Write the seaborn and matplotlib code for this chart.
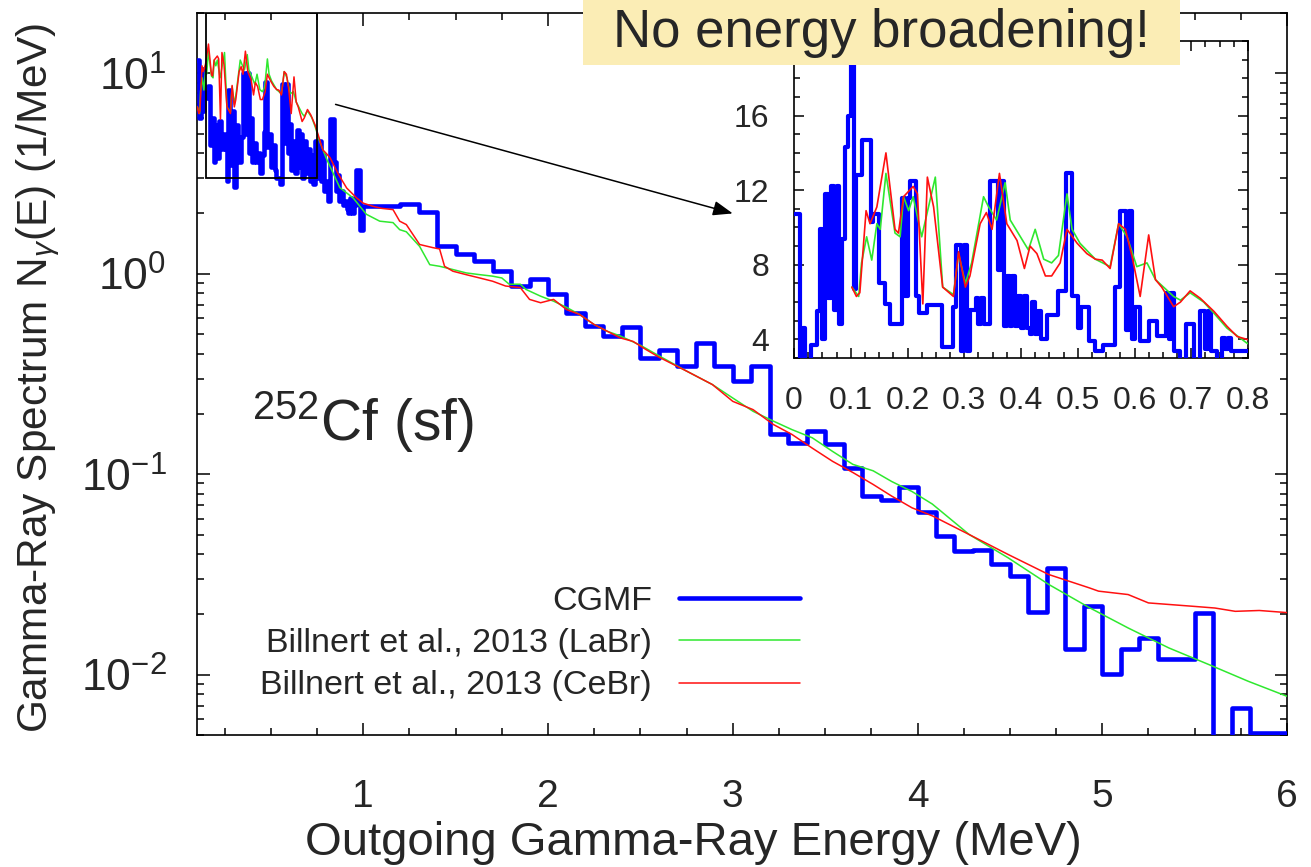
import numpy as np
import matplotlib
matplotlib.use("Agg")
import matplotlib.pyplot as plt
from matplotlib.patches import Rectangle
from matplotlib.lines import Line2D
from matplotlib.ticker import MultipleLocator, LogLocator, NullFormatter, FixedLocator
import seaborn as sns

# ---------------------------------------------------------------- data
# CGMF spectrum, main panel: 10 keV bins from 0.10 to 1.00 MeV
cgmf_fine_e0, cgmf_fine_e1, cgmf_fine_w = 0.10, 1.00, 0.01
cgmf_fine = [11.7, 6.0, 10.5, 6.5, 8.0, 7.5, 8.6, 4.4, 6.0, 3.6,
             5.5, 3.8, 5.8, 4.2, 5.0, 4.2, 2.9, 8.3, 3.5, 6.5,
             2.7, 5.5, 4.5, 3.6, 4.8, 10.0, 5.0, 10.0, 4.0, 6.0,
             3.6, 4.5, 3.6, 4.0, 3.2, 3.9, 5.1, 9.1, 4.3, 5.0,
             3.4, 4.4, 3.3, 3.0, 3.0, 2.8, 8.8, 4.5, 8.8, 4.0,
             5.6, 3.3, 4.6, 3.2, 5.2, 3.4, 5.0, 3.0, 4.6, 3.2,
             4.2, 2.9, 3.9, 2.8, 4.6, 3.0, 4.6, 2.9, 3.9, 2.6,
             2.9, 2.3, 5.9, 5.9, 3.6, 2.6, 3.1, 2.3, 2.6, 2.2,
             2.3, 2.1, 2.0, 2.4, 2.0, 2.2, 3.3, 3.3, 1.66, 1.66]
# CGMF spectrum, main panel: 100 keV bins from 1.0 to 6.0 MeV
cgmf_coarse_e0, cgmf_coarse_e1, cgmf_coarse_w = 1.0, 6.0, 0.1
cgmf_coarse = [2.17, 2.17, 2.24, 2.04, 1.37, 1.25, 1.16, 1.03, 0.867, 0.937,
               0.794, 0.638, 0.548, 0.487, 0.54, 0.379, 0.419, 0.346, 0.449, 0.346,
               0.291, 0.346, 0.158, 0.143, 0.164, 0.141, 0.107, 0.078, 0.074, 0.086,
               0.065, 0.049, 0.0413, 0.0421, 0.0355, 0.031, 0.0206, 0.0341, 0.0135, 0.022,
               0.0101, 0.0135, 0.0153, 0.012, 0.012, 0.0204, 0.003, 0.0068, 0.0051, 0.0051]

# CGMF spectrum, zoomed panel: 5 keV bins from 0 to 0.8 MeV
cgmf_zoom_e0, cgmf_zoom_e1, cgmf_zoom_w = 0.0, 0.8, 0.005
cgmf_zoom = [10.7, 10.7, 2.0, 4.6, 2.0, 2.0, 3.7, 3.7, 5.5, 9.9,
             4.0, 11.8, 6.2, 12.2, 5.6, 12.2, 4.8, 9.4, 14.3, 16.0,
             20.5, 6.7, 12.8, 12.8, 14.7, 14.7, 14.7, 10.3, 10.7, 10.7,
             7.0, 7.0, 5.9, 5.9, 4.8, 4.8, 4.8, 4.8, 11.6, 6.3,
             11.6, 12.5, 12.5, 6.3, 5.4, 5.4, 5.4, 5.85, 5.85, 5.85,
             5.85, 5.85, 3.6, 3.6, 3.6, 3.6, 5.75, 9.06, 9.06, 3.4,
             9.06, 3.4, 5.6, 5.6, 6.2, 4.8, 6.2, 4.8, 4.8, 12.5,
             12.5, 12.5, 7.7, 12.5, 4.7, 7.4, 4.7, 7.4, 4.7, 6.3,
             4.6, 6.3, 4.6, 4.3, 6.0, 4.3, 5.5, 4.0, 4.0, 5.3,
             5.3, 5.3, 5.3, 6.6, 6.6, 6.6, 12.9, 12.9, 6.3, 6.3,
             4.6, 5.75, 5.75, 5.75, 3.9, 3.9, 3.4, 3.4, 3.4, 3.7,
             3.7, 3.7, 3.7, 6.8, 6.8, 10.9, 10.9, 4.5, 10.9, 4.0,
             5.75, 5.75, 3.9, 3.9, 3.9, 5.0, 5.0, 5.0, 4.2, 4.2,
             4.2, 6.5, 4.0, 6.5, 3.4, 3.4, 2.5, 2.5, 4.8, 4.8,
             4.8, 2.5, 2.5, 5.5, 5.5, 3.5, 5.5, 3.4, 3.4, 2.5,
             2.5, 4.05, 3.5, 4.05, 3.4, 3.4, 3.4, 3.4, 3.4, 3.4]

# Billnert et al. 2013, LaBr detector
labr_e = [0.102, 0.114, 0.119, 0.128, 0.137, 0.146, 0.152, 0.162, 0.178, 0.187,
          0.193, 0.202, 0.21, 0.225, 0.249, 0.262, 0.281, 0.29, 0.302, 0.313,
          0.334, 0.343, 0.357, 0.372, 0.381, 0.399, 0.413, 0.425, 0.44, 0.454,
          0.466, 0.481, 0.49, 0.504, 0.531, 0.557, 0.572, 0.587, 0.604, 0.622,
          0.637, 0.669, 0.681, 0.698, 0.722, 0.74, 0.763, 0.798, 0.873, 0.945,
          1.017, 1.089, 1.161, 1.197, 1.233, 1.305, 1.36, 1.413, 1.485, 1.557,
          1.63, 1.70, 1.75, 1.79, 1.85, 1.88, 1.96, 2.03, 2.10, 2.17,
          2.25, 2.32, 2.39, 2.5, 2.6, 2.75, 2.89, 3.0, 3.11, 3.22,
          3.32, 3.43, 3.54, 3.65, 3.76, 3.86, 3.97, 4.08, 4.28, 4.49,
          4.71, 4.93, 5.14, 5.36, 5.58, 5.79, 6.0]
labr_n = [6.8, 6.3, 8.1, 9.5, 8.25, 10.2, 9.9, 12.9, 9.7, 9.5,
          11.65, 10.9, 11.65, 9.5, 12.7, 6.8, 6.4, 8.6, 7.0, 8.1,
          11.65, 11.1, 10.4, 12.4, 10.4, 9.5, 8.8, 9.9, 8.3, 8.1,
          8.5, 11.8, 9.9, 9.15, 8.3, 7.9, 10.2, 9.5, 7.9, 8.1,
          7.2, 6.3, 6.1, 6.5, 6.0, 5.4, 4.6, 3.8, 2.69, 2.39,
          1.98, 1.83, 1.80, 1.66, 1.62, 1.37, 1.11, 1.09, 1.05, 1.01,
          0.99, 0.973, 0.953, 0.887, 0.887, 0.836, 0.773, 0.73, 0.68, 0.627,
          0.558, 0.517, 0.49, 0.44, 0.39, 0.327, 0.28, 0.24, 0.206, 0.184,
          0.167, 0.152, 0.13, 0.112, 0.104, 0.092, 0.082, 0.071, 0.050, 0.0383,
          0.0282, 0.0216, 0.0171, 0.0136, 0.0112, 0.00927, 0.0078]

# Billnert et al. 2013, CeBr detector
cebr_e = [0.102, 0.11, 0.116, 0.127, 0.134, 0.146, 0.162, 0.178, 0.184, 0.193,
          0.21, 0.2175, 0.227, 0.235, 0.246, 0.262, 0.281, 0.29, 0.302, 0.31,
          0.328, 0.339, 0.349, 0.362, 0.375, 0.393, 0.406, 0.416, 0.428, 0.443,
          0.454, 0.469, 0.481, 0.499, 0.516, 0.531, 0.543, 0.557, 0.572, 0.584,
          0.596, 0.61, 0.625, 0.637, 0.648, 0.669, 0.681, 0.698, 0.716, 0.74,
          0.763, 0.781, 0.798, 0.82, 0.865, 0.91, 0.964, 1.0, 1.053, 1.10,
          1.161, 1.197, 1.233, 1.305, 1.377, 1.413, 1.44, 1.485, 1.557, 1.63,
          1.70, 1.77, 1.85, 1.90, 1.96, 2.03, 2.10, 2.17, 2.25, 2.32,
          2.39, 2.46, 2.53, 2.60, 2.75, 2.89, 3.0, 3.11, 3.22, 3.32,
          3.43, 3.54, 3.65, 3.76, 3.86, 3.97, 4.08, 4.28, 4.49, 4.71,
          4.93, 4.98, 5.14, 5.25, 5.36, 5.5, 5.61, 5.72, 5.85, 6.0]
cebr_n = [6.8, 6.3, 6.5, 10.9, 10.2, 11.1, 14.0, 9.9, 9.7, 11.65,
          12.2, 11.8, 5.9, 12.7, 11.1, 6.8, 6.3, 8.7, 6.8, 7.4,
          10.2, 10.8, 9.9, 12.9, 10.2, 9.3, 7.8, 9.0, 8.6, 7.4,
          7.4, 8.1, 9.9, 9.15, 8.6, 8.3, 8.25, 7.8, 10.2, 9.9,
          8.4, 6.3, 9.6, 7.2, 6.8, 5.75, 6.0, 6.6, 6.2, 5.5,
          4.7, 4.15, 4.0, 3.8, 3.14, 2.68, 2.39, 2.25, 2.17, 2.12,
          2.09, 1.83, 1.76, 1.40, 1.35, 1.33, 1.09, 1.03, 0.99, 0.953,
          0.918, 0.869, 0.853, 0.745, 0.717, 0.745, 0.663, 0.627, 0.558, 0.517,
          0.479, 0.46, 0.419, 0.384, 0.327, 0.28, 0.231, 0.21, 0.177, 0.158,
          0.135, 0.116, 0.102, 0.0889, 0.0778, 0.068, 0.062, 0.050, 0.0398, 0.0316,
          0.0271, 0.0261, 0.0251, 0.0228, 0.0224, 0.0219, 0.0215, 0.0207, 0.0209, 0.0204]

legend_labels = ["CGMF", "Billnert et al., 2013 (LaBr)", "Billnert et al., 2013 (CeBr)"]
x_ticks = [1, 2, 3, 4, 5, 6]
zoom_x_ticks = [0, 0.1, 0.2, 0.3, 0.4, 0.5, 0.6, 0.7, 0.8]
zoom_x_labels = ["0", "0.1", "0.2", "0.3", "0.4", "0.5", "0.6", "0.7", "0.8"]
zoom_y_ticks = [4, 8, 12, 16]

# ---------------------------------------------------------------- style
sns.set_style("ticks")
plt.rcParams["font.family"] = ["Liberation Sans", "DejaVu Sans"]
plt.rcParams["mathtext.fontset"] = "custom"
plt.rcParams["mathtext.rm"] = "Liberation Sans"
plt.rcParams["mathtext.it"] = "Liberation Sans:italic"
plt.rcParams["mathtext.sf"] = "Liberation Sans"
plt.rcParams["axes.unicode_minus"] = False
plt.rcParams["axes.linewidth"] = 1.2
plt.rcParams["axes.edgecolor"] = "black"

BLUE, GREEN, RED = "#0000ff", "#2fe82f", "#ff1010"


def step_frame(e0, e1, w, values):
    edges = np.round(np.arange(e0, e1 + w / 2, w), 4)
    vals = list(values) + [values[-1]]
    return edges, vals


fig = plt.figure(figsize=(13.11, 8.67), dpi=100)
W, H = 1311, 867
ax = fig.add_axes([197 / W, 1 - 735 / H, (1287 - 197) / W, (735 - 13) / H])

# CGMF histogram (main panel)
fe, fv = step_frame(cgmf_fine_e0, cgmf_fine_e1, cgmf_fine_w, cgmf_fine)
ce, cv = step_frame(cgmf_coarse_e0, cgmf_coarse_e1, cgmf_coarse_w, cgmf_coarse)
main_e = np.concatenate([fe[:-1], ce])
main_v = np.concatenate([fv[:-1], cv])
sns.lineplot(x=main_e, y=main_v, ax=ax, color=BLUE, lw=3.3, drawstyle="steps-post",
             estimator=None, sort=False, zorder=3)
sns.lineplot(x=labr_e, y=labr_n, ax=ax, color=GREEN, lw=1.1, estimator=None, sort=False, zorder=4)
sns.lineplot(x=cebr_e, y=cebr_n, ax=ax, color=RED, lw=1.1, estimator=None, sort=False, zorder=5)

ax.set_yscale("log")
ax.set_xlim(0.1, 6.0)
ax.set_ylim(0.005, 20)
ax.xaxis.set_major_locator(FixedLocator(x_ticks))
ax.xaxis.set_minor_locator(MultipleLocator(0.25))
ax.yaxis.set_major_locator(LogLocator(base=10, numticks=10))
ax.yaxis.set_minor_locator(LogLocator(base=10, subs=np.arange(2, 10), numticks=20))
ax.yaxis.set_minor_formatter(NullFormatter())
ax.tick_params(which="both", direction="in", top=True, right=True, width=1.1, color="black")
ax.tick_params(which="major", length=9)
ax.tick_params(which="minor", length=5)
ax.tick_params(axis="x", which="major", labelsize=28, pad=32)
ax.tick_params(axis="y", which="major", labelsize=32, pad=22)
ax.set_xlabel("")
ax.set_ylabel("")
fig.text(693 / W, 1 - 843 / H, "Outgoing Gamma-Ray Energy (MeV)", fontsize=34,
         ha="center", va="center")
fig.text(38 / W, 1 - 378 / H, r"Gamma-Ray Spectrum N$_{\gamma}$(E) (1/MeV)", fontsize=30.5,
         ha="center", va="center", rotation=90)

# frame of the zoomed region and pointer
ax.add_patch(Rectangle((0.15, 3.0), 0.60, 17.0, fill=False, lw=1.3, ec="black", zorder=6))
ax.annotate("", xy=(3.0, 2.0), xytext=(0.85, 7.0),
            arrowprops=dict(arrowstyle="-|>,head_length=1.2,head_width=0.45",
                            color="black", lw=1.1, shrinkA=0, shrinkB=0), zorder=6)

ax.text(0.40, 0.146, r"$^{252}$Cf (sf)", fontsize=41, ha="left", va="baseline")

handles = [Line2D([], [], color=BLUE, lw=3.3), Line2D([], [], color=GREEN, lw=1.1),
           Line2D([], [], color=RED, lw=1.1)]
ax.legend(handles, legend_labels, loc="upper right", bbox_to_anchor=(800 / W, 1 - 586 / H),
          bbox_transform=fig.transFigure, frameon=False, markerfirst=False, fontsize=24.5,
          handlelength=3.55, handletextpad=0.8, labelspacing=0.33, borderpad=0, borderaxespad=0)

# ---------------------------------------------------------------- zoomed panel
ins = fig.add_axes([794 / W, 1 - 358 / H, (1248 - 794) / W, (358 - 41) / H])
ze, zv = step_frame(cgmf_zoom_e0, cgmf_zoom_e1, cgmf_zoom_w, cgmf_zoom)
sns.lineplot(x=ze, y=zv, ax=ins, color=BLUE, lw=3.0, drawstyle="steps-post",
             estimator=None, sort=False, zorder=3)
sns.lineplot(x=labr_e, y=labr_n, ax=ins, color=GREEN, lw=1.2, estimator=None, sort=False, zorder=4)
sns.lineplot(x=cebr_e, y=cebr_n, ax=ins, color=RED, lw=1.2, estimator=None, sort=False, zorder=5)
ins.set_xlim(0, 0.8)
ins.set_ylim(3, 20)
ins.xaxis.set_major_locator(FixedLocator(zoom_x_ticks))
ins.xaxis.set_minor_locator(MultipleLocator(0.025))
ins.yaxis.set_major_locator(FixedLocator(zoom_y_ticks))
ins.yaxis.set_minor_locator(MultipleLocator(1))
ins.set_xticklabels(zoom_x_labels)
ins.tick_params(which="both", direction="in", top=True, right=True, width=1.1, color="black")
ins.tick_params(which="major", length=7, labelsize=23)
ins.tick_params(which="minor", length=4)
ins.tick_params(axis="x", pad=20)
ins.tick_params(axis="y", pad=18)
ins.set_xlabel("")
ins.set_ylabel("")

# banner
fig.patches.append(Rectangle((583 / W, 1 - 65 / H), (1180 - 583) / W, 65 / H,
                             transform=fig.transFigure, facecolor="#fbedb5",
                             edgecolor="none", zorder=10))
fig.text(881 / W, 1 - 33 / H, "No energy broadening!", fontsize=38, ha="center",
         va="center", zorder=11)

fig.savefig("out.png", dpi=100)
